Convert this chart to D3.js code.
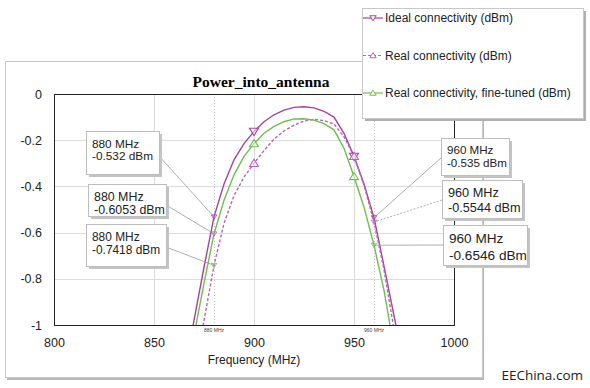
<!DOCTYPE html>
<html>
<head>
<meta charset="utf-8">
<script src="https://cdn.jsdelivr.net/npm/d3@7"></script>
<style>
  body { margin: 0; background: #fff; }
  svg { display: block; font-family: Arial, "Liberation Sans", sans-serif; }
</style>
</head>
<body>
<div id="chart"></div>
<script>
// frequency points (MHz)
const freqs = [865, 870, 875, 880, 885, 890, 895, 900, 905, 910, 915, 920, 925,
               930, 935, 940, 945, 950, 955, 960, 965, 970, 975];
// Ideal connectivity (dBm)
const idealVals = [-1.21, -0.98, -0.75, -0.532, -0.39, -0.285, -0.215, -0.162, -0.12, -0.09, -0.07, -0.058, -0.055,
                   -0.06, -0.075, -0.10, -0.17, -0.27, -0.39, -0.535, -0.745, -0.96, -1.17];
// Real connectivity (dBm)
const realVals = [-1.45, -1.21, -0.98, -0.7418, -0.56, -0.44, -0.36, -0.30, -0.245, -0.195, -0.16, -0.135, -0.117,
                  -0.11, -0.115, -0.13, -0.185, -0.27, -0.395, -0.5544, -0.76, -1.02, -1.25];
// Real connectivity, fine-tuned (dBm)
const tunedVals = [-1.27, -1.045, -0.82, -0.6053, -0.46, -0.35, -0.27, -0.215, -0.17, -0.14, -0.12, -0.108, -0.107,
                   -0.113, -0.128, -0.155, -0.235, -0.357, -0.49, -0.6546, -0.85, -1.1, -1.3];

const seriesNames = ['Ideal connectivity (dBm)', 'Real connectivity (dBm)', 'Real connectivity, fine-tuned (dBm)'];
const markerFreqs = [900, 950];
const xTicks = [800, 850, 900, 950, 1000];
const yTicks = [0, -0.2, -0.4, -0.6, -0.8, -1];
const cursorFreqs = [880, 960];
// callout readings at the cursors: [freq, value]
const calloutsLeft = [[880, -0.532], [880, -0.6053], [880, -0.7418]];
const calloutsRight = [[960, -0.535], [960, -0.5544], [960, -0.6546]];

const W = 590, H = 388;
const margin = {top: 94, right: 136, bottom: 63, left: 54};
const width = W - margin.left - margin.right;   // 400
const height = H - margin.top - margin.bottom;  // 231

const purple = '#a3449f', purpleLight = '#b466b2', green = '#6fbf4e';

const svg = d3.select('#chart').append('svg').attr('width', W).attr('height', H);

// outer panel with shadow
svg.append('rect').attr('x', 7).attr('y', 64).attr('width', 477).attr('height', 316).attr('fill', '#b8b8b8');
svg.append('rect').attr('x', 5.5).attr('y', 61.5).attr('width', 477).attr('height', 316)
    .attr('fill', '#fff').attr('stroke', '#c8c8c8');

const x = d3.scaleLinear().domain([800, 1000]).range([0, width]);
const y = d3.scaleLinear().domain([-1, 0]).range([height, 0]);

const g = svg.append('g').attr('transform', 'translate(' + margin.left + ',' + margin.top + ')');

// grid
g.append('g').selectAll('line').data(xTicks.slice(1, -1)).join('line')
    .attr('x1', d => Math.round(x(d)) + 0.5).attr('x2', d => Math.round(x(d)) + 0.5)
    .attr('y1', 0).attr('y2', height).attr('stroke', '#dcdcdc');
g.append('g').selectAll('line').data(yTicks.slice(1, -1)).join('line')
    .attr('x1', 0).attr('x2', width)
    .attr('y1', d => Math.round(y(d)) + 0.5).attr('y2', d => Math.round(y(d)) + 0.5).attr('stroke', '#dcdcdc');

// cursor lines
g.append('g').selectAll('line').data(cursorFreqs).join('line')
    .attr('x1', d => x(d) + 0.5).attr('x2', d => x(d) + 0.5)
    .attr('y1', 0).attr('y2', height)
    .attr('stroke', '#bbb').attr('stroke-width', 0.8).attr('stroke-dasharray', '1,2');
g.append('g').selectAll('text').data(cursorFreqs).join('text')
    .attr('x', d => x(d)).attr('y', height + 7)
    .attr('text-anchor', 'middle').attr('font-size', 5).attr('fill', '#444')
    .text(d => d + ' MHz');

// plot frame
g.append('rect').attr('x', 0.5).attr('y', 0.5).attr('width', width).attr('height', height)
    .attr('fill', 'none').attr('stroke', '#222');

// axes (labels only, frame drawn above)
const xAxis = g.append('g').attr('transform', 'translate(0,' + height + ')')
    .call(d3.axisBottom(x).tickValues(xTicks).tickSize(0).tickPadding(13).tickFormat(d => String(d)));
xAxis.select('.domain').remove();
xAxis.selectAll('text').attr('font-size', 12.5).attr('font-family', 'Arial, "Liberation Sans", sans-serif').attr('fill', '#222');

const yAxis = g.append('g')
    .call(d3.axisLeft(y).tickValues(yTicks).tickSize(0).tickPadding(12).tickFormat(d => String(+d.toFixed(1))));
yAxis.select('.domain').remove();
yAxis.selectAll('text').attr('font-size', 12.5).attr('font-family', 'Arial, "Liberation Sans", sans-serif').attr('fill', '#222');

// title and axis label
svg.append('text').attr('x', 261).attr('y', 87)
    .attr('text-anchor', 'middle').attr('font-family', '"Liberation Serif", "Times New Roman", serif')
    .attr('font-weight', 'bold').attr('font-size', 15.5).text('Power_into_antenna');
svg.append('text').attr('x', margin.left + width / 2).attr('y', 364)
    .attr('text-anchor', 'middle').attr('font-size', 12).attr('fill', '#222').text('Frequency (MHz)');

// series
const series = [
    {name: seriesNames[0], vals: idealVals, color: purple, dash: null, marker: 'down'},
    {name: seriesNames[1], vals: realVals, color: purpleLight, dash: '3,2', marker: 'up'},
    {name: seriesNames[2], vals: tunedVals, color: green, dash: null, marker: 'up'}
];

svg.append('defs').append('clipPath').attr('id', 'clip')
    .append('rect').attr('x', 0).attr('y', 0).attr('width', width).attr('height', height);

const line = d3.line().x(d => x(d[0])).y(d => y(d[1]));

const plot = g.append('g').attr('clip-path', 'url(#clip)');
series.forEach(s => {
    plot.append('path')
        .datum(freqs.map((f, i) => [f, s.vals[i]]))
        .attr('d', line)
        .attr('fill', 'none')
        .attr('stroke', s.color)
        .attr('stroke-width', 1.4)
        .attr('stroke-dasharray', s.dash);
});

function tri(dir, r) {
    return dir === 'down'
        ? 'M' + (-r) + ',' + (-r * 0.7) + 'L' + r + ',' + (-r * 0.7) + 'L0,' + (r * 0.9) + 'Z'
        : 'M' + (-r) + ',' + (r * 0.7) + 'L' + r + ',' + (r * 0.7) + 'L0,' + (-r * 0.9) + 'Z';
}

series.forEach(s => {
    g.append('g').selectAll('path').data(markerFreqs).join('path')
        .attr('transform', f => 'translate(' + x(f) + ',' + y(s.vals[freqs.indexOf(f)]) + ')')
        .attr('d', tri(s.marker, 4.5))
        .attr('fill', 'rgba(255,255,255,0.5)')
        .attr('stroke', s.color).attr('stroke-width', 1.1);
});

// callouts
function callout(px, py, w, h, fs, lh, lines, anchorY, pt, dash) {
    // leader line
    const ax = px > pt[0] ? px : px + w;
    svg.append('line')
        .attr('x1', ax).attr('y1', anchorY).attr('x2', pt[0]).attr('y2', pt[1])
        .attr('stroke', '#9a9a9a').attr('stroke-width', 0.8)
        .attr('stroke-dasharray', dash);
    svg.append('rect').attr('x', px + 3).attr('y', py + 3).attr('width', w).attr('height', h).attr('fill', '#c4c4c4');
    svg.append('rect').attr('x', px + 0.5).attr('y', py + 0.5).attr('width', w).attr('height', h)
        .attr('fill', '#fff').attr('stroke', '#bdbdbd');
    lines.forEach((t, i) => {
        svg.append('text').attr('x', px + 6).attr('y', py + 6 + fs * 0.9 + i * lh)
            .attr('font-size', fs).attr('fill', '#222').text(t);
    });
}

const leftBoxes = [
    {x: 86, y: 131, w: 73, h: 43, fs: 11.8, lh: 12.5, ay: 156},
    {x: 88, y: 184, w: 78, h: 32, fs: 12.4, lh: 13, ay: 205},
    {x: 86, y: 224, w: 80, h: 42, fs: 11.9, lh: 13, ay: 247}
];
calloutsLeft.forEach((c, i) => {
    const b = leftBoxes[i];
    callout(b.x, b.y, b.w, b.h, b.fs, b.lh,
        [c[0] + ' MHz', String(c[1]) + ' dBm'], b.ay,
        [margin.left + x(c[0]), margin.top + y(c[1])], null);
});

const rightBoxes = [
    {x: 441, y: 138, w: 68, h: 37, fs: 11.6, lh: 13, ay: 158, dash: null},
    {x: 442, y: 180, w: 80, h: 38, fs: 12.7, lh: 15, ay: 200, dash: '2,1.5'},
    {x: 443, y: 225, w: 84, h: 40, fs: 13.6, lh: 17, ay: 245, dash: null}
];
calloutsRight.forEach((c, i) => {
    const b = rightBoxes[i];
    callout(b.x, b.y, b.w, b.h, b.fs, b.lh,
        [c[0] + ' MHz', String(c[1]) + ' dBm'], b.ay,
        [margin.left + x(c[0]), margin.top + y(c[1])], b.dash);
});

// small cursor markers at callout points
[calloutsLeft, calloutsRight].forEach(arr => {
    arr.forEach((c, i) => {
        svg.append('path')
            .attr('transform', 'translate(' + (margin.left + x(c[0])) + ',' + (margin.top + y(c[1])) + ')')
            .attr('d', tri('down', 2.8))
            .attr('fill', 'none').attr('stroke', series[i].color).attr('stroke-width', 0.8);
    });
});

// legend
const lg = svg.append('g').attr('transform', 'translate(362,8)');
lg.append('rect').attr('x', 3).attr('y', 3).attr('width', 221).attr('height', 110).attr('fill', '#b0b0b0');
lg.append('rect').attr('x', 0.5).attr('y', 0.5).attr('width', 221).attr('height', 110)
    .attr('fill', '#fff').attr('stroke', '#c8c8c8');
series.forEach((s, i) => {
    const ly = 10 + i * 37.5;
    lg.append('line').attr('x1', 1).attr('x2', 21).attr('y1', ly).attr('y2', ly)
        .attr('stroke', s.color).attr('stroke-width', 1.2).attr('stroke-dasharray', s.dash);
    lg.append('path').attr('transform', 'translate(11,' + ly + ')')
        .attr('d', tri(s.marker, 3.2))
        .attr('fill', '#fff').attr('stroke', s.color).attr('stroke-width', 1);
    lg.append('text').attr('x', 23).attr('y', ly + 4.4).attr('font-size', 12).attr('fill', '#222').text(s.name);
});

// watermark
svg.append('text').attr('x', 583).attr('y', 380).attr('text-anchor', 'end')
    .attr('font-family', '"Open Sans", "DejaVu Sans", sans-serif').attr('font-size', 13.5)
    .attr('fill', '#222').text('EEChina.com');
</script>
</body>
</html>
